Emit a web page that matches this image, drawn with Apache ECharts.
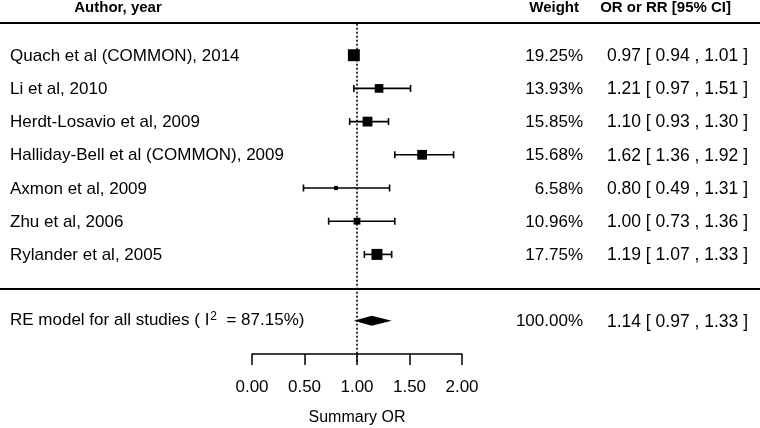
<!DOCTYPE html>
<html><head><meta charset="utf-8">
<script src="https://cdn.jsdelivr.net/npm/echarts@6/dist/echarts.min.js"></script>
<style>html,body{margin:0;padding:0;background:#fff}#c{width:760px;height:428px}</style>
</head><body><div id="c"></div>
<script>
// ---- data ----
const studies = ['Quach et al (COMMON), 2014', 'Li et al, 2010', 'Herdt-Losavio et al, 2009', 'Halliday-Bell et al (COMMON), 2009', 'Axmon et al, 2009', 'Zhu et al, 2006', 'Rylander et al, 2005'];
const estimates = [0.97, 1.21, 1.10, 1.62, 0.80, 1.00, 1.19];
const lowers = [0.94, 0.97, 0.93, 1.36, 0.49, 0.73, 1.07];
const uppers = [1.01, 1.51, 1.30, 1.92, 1.31, 1.36, 1.33];
const weights = [19.25, 13.93, 15.85, 15.68, 6.58, 10.96, 17.75];
const summaryLabel = 'RE model for all studies ( I';
const summaryI2 = '87.15%';
const summaryEst = [1.14];
const summaryLower = [0.97];
const summaryUpper = [1.33];
const summaryWeight = [100.00];
const xTicks = [0, 0.5, 1, 1.5, 2];
const headers = ['Author, year', 'Weight', 'OR or RR [95% CI]'];
const xAxisName = 'Summary OR';
const refValue = 1;

// ---- layout ----
const FONT = '"Liberation Sans", Arial, Helvetica, sans-serif';
const LABEL_X = 10, WEIGHT_RX = 583, CI_RX = 748;
const SUMMARY_ROW = 8;

const chart = echarts.init(document.getElementById('c'), null, {renderer: 'canvas'});

function txt(x, y, text, align, size) {
  return {type: 'text', x: x, y: y, style: {text: text, fill: '#000', fontSize: size || 16, fontFamily: FONT, align: align || 'left', verticalAlign: 'middle'}};
}
function ciText(e, l, u) {
  return e.toFixed(2) + ' [ ' + l.toFixed(2) + ' , ' + u.toFixed(2) + ' ]';
}

const studyData = studies.map((s, i) => [estimates[i], i, lowers[i], uppers[i], weights[i]]);
const summaryData = [[summaryEst[0], SUMMARY_ROW, summaryLower[0], summaryUpper[0], summaryWeight[0]]];

chart.setOption({
  animation: false,
  backgroundColor: '#fff',
  grid: {left: 252, width: 210, top: 22, height: 332, containLabel: false, outerBoundsMode: 'none'},
  xAxis: {
    type: 'value', min: xTicks[0], max: xTicks[xTicks.length - 1], interval: 0.5,
    position: 'bottom',
    axisLine: {show: true, onZero: false, lineStyle: {color: '#000', width: 1.5}},
    axisTick: {show: true, inside: false, length: 11, lineStyle: {color: '#000', width: 1.5}},
    axisLabel: {color: '#000', fontSize: 17, fontFamily: FONT, margin: 25, formatter: v => v.toFixed(2)},
    splitLine: {show: false},
    name: xAxisName, nameLocation: 'middle', nameGap: 56,
    nameTextStyle: {color: '#000', fontSize: 16, fontFamily: FONT}
  },
  yAxis: {type: 'value', min: -1, max: 9, inverse: true, show: false, splitLine: {show: false}},
  graphic: [
    {type: 'line', shape: {x1: 0, y1: 23, x2: 760, y2: 23}, style: {stroke: '#000', lineWidth: 2}},
    {type: 'line', shape: {x1: 0, y1: 289, x2: 760, y2: 289}, style: {stroke: '#000', lineWidth: 2}},
    {type: 'text', x: 118, y: 8, style: {text: headers[0], fill: '#000', font: 'bold 15px ' + FONT, align: 'center', verticalAlign: 'middle'}},
    {type: 'text', x: 579, y: 8, style: {text: headers[1], fill: '#000', font: 'bold 15px ' + FONT, align: 'right', verticalAlign: 'middle'}},
    {type: 'text', x: 731, y: 8, style: {text: headers[2], fill: '#000', font: 'bold 15px ' + FONT, align: 'right', verticalAlign: 'middle'}}
  ],
  series: [
    {
      type: 'custom', data: [[refValue]], clip: false, z: 1,
      renderItem: (params, api) => {
        const top = api.coord([api.value(0), -0.95]);
        const bot = api.coord([api.value(0), 9]);
        return {type: 'line', shape: {x1: top[0], y1: top[1], x2: bot[0], y2: bot[1] + 9},
          style: {stroke: '#000', lineWidth: 1.6, lineDash: [2, 2]}};
      }
    },
    {
      type: 'custom', data: studyData, clip: false, z: 2,
      renderItem: (params, api) => {
        const i = params.dataIndex;
        const est = api.value(0), row = api.value(1), lo = api.value(2), hi = api.value(3), w = api.value(4);
        const c = api.coord([est, row]);
        const pl = api.coord([lo, row]);
        const ph = api.coord([hi, row]);
        const y = c[1];
        const s = w * 0.62;
        const ls = {stroke: '#000', lineWidth: 1.6};
        return {type: 'group', children: [
          {type: 'line', shape: {x1: pl[0], y1: y, x2: ph[0], y2: y}, style: ls},
          {type: 'line', shape: {x1: pl[0], y1: y - 3.5, x2: pl[0], y2: y + 3.5}, style: ls},
          {type: 'line', shape: {x1: ph[0], y1: y - 3.5, x2: ph[0], y2: y + 3.5}, style: ls},
          {type: 'rect', shape: {x: c[0] - s / 2, y: y - s / 2, width: s, height: s}, style: {fill: '#000'}},
          txt(LABEL_X, y + 1, studies[i], 'left', 17),
          txt(WEIGHT_RX, y + 1, w.toFixed(2) + '%', 'right', 17),
          txt(CI_RX, y + 1, ciText(est, lo, hi), 'right', 17.5)
        ]};
      }
    },
    {
      type: 'custom', data: summaryData, clip: false, z: 2,
      renderItem: (params, api) => {
        const est = api.value(0), row = api.value(1), lo = api.value(2), hi = api.value(3), w = api.value(4);
        const c = api.coord([est, row]);
        const pl = api.coord([lo, row]);
        const ph = api.coord([hi, row]);
        const y = c[1];
        return {type: 'group', children: [
          {type: 'polygon', shape: {points: [[pl[0], y], [c[0], y - 5], [ph[0], y], [c[0], y + 5]]}, style: {fill: '#000'}},
          {type: 'text', x: LABEL_X, y: y, style: {
            text: '{a|' + summaryLabel + '}{s|2}{a|  = ' + summaryI2 + ')}',
            fill: '#000', align: 'left', verticalAlign: 'middle',
            rich: {
              a: {fontSize: 17, fontFamily: FONT, color: '#000', lineHeight: 20},
              s: {fontSize: 12, fontFamily: FONT, color: '#000', verticalAlign: 'top', lineHeight: 20, padding: [0, 0, 9, 1]}
            }
          }},
          txt(WEIGHT_RX, y + 1, w.toFixed(2) + '%', 'right', 17),
          txt(CI_RX, y + 1, ciText(est, lo, hi), 'right', 17.5)
        ]};
      }
    }
  ]
});
</script></body></html>
